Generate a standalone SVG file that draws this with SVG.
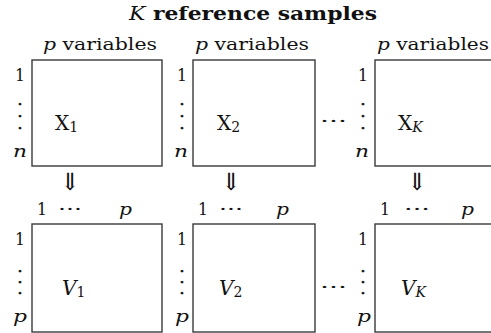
<svg xmlns="http://www.w3.org/2000/svg" width="491" height="333" viewBox="0 0 491 333">
<style>
text{font-family:'DejaVu Serif','Liberation Serif',serif;fill:#111;}
.lab{font-size:17px;}
.big{font-size:20px;}
.sub{font-size:14px;}
.it{font-style:italic;}
.box{fill:#fff;stroke:#3a3a3a;stroke-width:1.4;}
.arr{font-family:'DejaVu Serif',serif;font-size:24px;text-anchor:middle;}
.d{font-size:10px;font-weight:bold;text-anchor:middle;stroke:#111;stroke-width:1;}
</style>
<text x="129" y="20" font-size="19" font-weight="bold" textLength="248" lengthAdjust="spacingAndGlyphs"><tspan font-style="italic" font-weight="normal">K</tspan> reference samples</text>

<g id="X1">
<rect class="box" x="32" y="60" width="130" height="106"/>
<text class="lab" x="43" y="50" textLength="114" lengthAdjust="spacingAndGlyphs"><tspan class="it">p</tspan> variables</text>
<text class="lab" x="15" y="81" textLength="10" lengthAdjust="spacingAndGlyphs">1</text>
<text class="d" x="20" y="105">.</text><text class="d" x="20" y="117">.</text><text class="d" x="20" y="129">.</text>
<text class="lab it" x="13" y="157" textLength="14" lengthAdjust="spacingAndGlyphs">n</text>
<text class="big" x="55" y="130">X<tspan class="sub" dy="2">1</tspan></text>
</g>
<g id="X2">
<rect class="box" x="193" y="60" width="122" height="106"/>
<text class="lab" x="195" y="50" textLength="114" lengthAdjust="spacingAndGlyphs"><tspan class="it">p</tspan> variables</text>
<text class="lab" x="177" y="81" textLength="10" lengthAdjust="spacingAndGlyphs">1</text>
<text class="d" x="182" y="105">.</text><text class="d" x="182" y="117">.</text><text class="d" x="182" y="129">.</text>
<text class="lab it" x="174" y="157" textLength="14" lengthAdjust="spacingAndGlyphs">n</text>
<text class="big" x="217" y="130">X<tspan class="sub" dy="2">2</tspan></text>
</g>
<g id="XK">
<rect class="box" x="375" y="60" width="130" height="106"/>
<text class="lab" x="377" y="50" textLength="112" lengthAdjust="spacingAndGlyphs"><tspan class="it">p</tspan> variables</text>
<text class="lab" x="358" y="81" textLength="10" lengthAdjust="spacingAndGlyphs">1</text>
<text class="d" x="363" y="105">.</text><text class="d" x="363" y="117">.</text><text class="d" x="363" y="129">.</text>
<text class="lab it" x="355" y="157" textLength="14" lengthAdjust="spacingAndGlyphs">n</text>
<text class="big" x="398" y="130">X<tspan class="sub it" dy="2">K</tspan></text>
</g>
<text class="lab" x="320" y="127" textLength="27" lengthAdjust="spacingAndGlyphs">···</text>

<g id="connectors">
<text class="arr" x="70" y="190">⇓</text>
<text class="arr" x="231" y="190">⇓</text>
<text class="arr" x="417" y="190">⇓</text>
</g>

<g id="V1">
<rect class="box" x="32" y="224" width="130" height="108"/>
<text class="lab" x="37" y="215" textLength="10" lengthAdjust="spacingAndGlyphs">1</text>
<text class="lab" x="58" y="215" textLength="24" lengthAdjust="spacingAndGlyphs">···</text>
<text class="lab it" x="119" y="215" textLength="13" lengthAdjust="spacingAndGlyphs">p</text>
<text class="lab" x="15" y="245" textLength="10" lengthAdjust="spacingAndGlyphs">1</text>
<text class="d" x="20" y="272">.</text><text class="d" x="20" y="283">.</text><text class="d" x="20" y="294">.</text>
<text class="lab it" x="13" y="322" textLength="14" lengthAdjust="spacingAndGlyphs">p</text>
<text class="big it" x="62" y="295">V<tspan class="sub" font-style="normal" dy="2">1</tspan></text>
</g>
<g id="V2">
<rect class="box" x="193" y="224" width="122" height="108"/>
<text class="lab" x="198" y="215" textLength="10" lengthAdjust="spacingAndGlyphs">1</text>
<text class="lab" x="219" y="215" textLength="24" lengthAdjust="spacingAndGlyphs">···</text>
<text class="lab it" x="276" y="215" textLength="13" lengthAdjust="spacingAndGlyphs">p</text>
<text class="lab" x="177" y="245" textLength="10" lengthAdjust="spacingAndGlyphs">1</text>
<text class="d" x="182" y="272">.</text><text class="d" x="182" y="283">.</text><text class="d" x="182" y="294">.</text>
<text class="lab it" x="175" y="322" textLength="14" lengthAdjust="spacingAndGlyphs">p</text>
<text class="big it" x="219" y="295">V<tspan class="sub" font-style="normal" dy="2">2</tspan></text>
</g>
<g id="VK">
<rect class="box" x="375" y="224" width="130" height="108"/>
<text class="lab" x="380" y="215" textLength="10" lengthAdjust="spacingAndGlyphs">1</text>
<text class="lab" x="404" y="215" textLength="26" lengthAdjust="spacingAndGlyphs">···</text>
<text class="lab it" x="461" y="215" textLength="13" lengthAdjust="spacingAndGlyphs">p</text>
<text class="lab" x="358" y="245" textLength="10" lengthAdjust="spacingAndGlyphs">1</text>
<text class="d" x="363" y="272">.</text><text class="d" x="363" y="283">.</text><text class="d" x="363" y="294">.</text>
<text class="lab it" x="357" y="322" textLength="14" lengthAdjust="spacingAndGlyphs">p</text>
<text class="big it" x="401" y="295">V<tspan class="sub it" dy="2">K</tspan></text>
</g>
<text class="lab" x="320" y="293" textLength="27" lengthAdjust="spacingAndGlyphs">···</text>
</svg>
